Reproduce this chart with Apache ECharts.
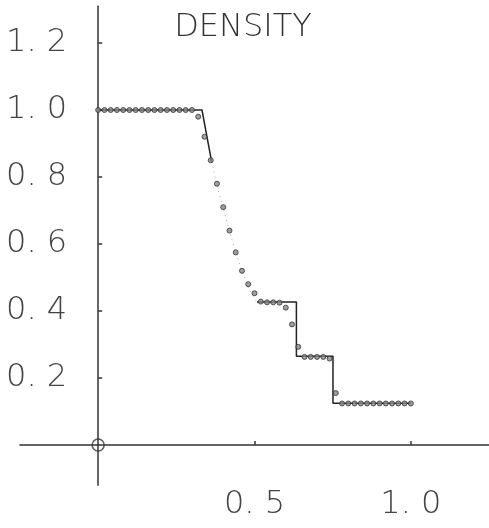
<!DOCTYPE html>
<html>
<head>
<meta charset="utf-8">
<script src="https://cdn.jsdelivr.net/npm/echarts@6/dist/echarts.min.js"></script>
<style>html,body{margin:0;padding:0;background:#fff;}#c{width:489px;height:528px;}</style>
</head>
<body>
<div id="c"></div>
<script>
// Numerical solution (circles)
const xValues = [0.00,0.02,0.04,0.06,0.08,0.10,0.12,0.14,0.16,0.18,0.20,0.22,0.24,0.26,0.28,0.30,
  0.32,0.34,0.36,0.38,0.40,0.42,0.44,0.46,0.48,0.50,0.52,0.54,0.56,0.58,0.60,0.62,0.64,
  0.66,0.68,0.70,0.72,0.74,0.76,0.78,0.80,0.82,0.84,0.86,0.88,0.90,0.92,0.94,0.96,0.98,1.00];
const densityValues = [1.0,1.0,1.0,1.0,1.0,1.0,1.0,1.0,1.0,1.0,1.0,1.0,1.0,1.0,1.0,1.0,
  0.98,0.92,0.85,0.78,0.71,0.64,0.575,0.52,0.48,0.453,0.428,0.426,0.426,0.425,0.41,0.36,0.293,
  0.263,0.263,0.263,0.263,0.258,0.155,0.124,0.124,0.124,0.124,0.124,0.124,0.124,0.124,0.124,0.124,0.124,0.124];
// Exact solution, solid parts
const exactLeftX = [0.0, 0.332, 0.363];
const exactLeftY = [1.0, 1.0, 0.845];
const exactRightX = [0.508, 0.634, 0.634, 0.751, 0.751, 1.0];
const exactRightY = [0.427, 0.427, 0.265, 0.265, 0.125, 0.125];
// Exact solution, faint rarefaction part
const rarefX = [0.363, 0.38, 0.40, 0.42, 0.44, 0.46, 0.48, 0.50, 0.508];
const rarefY = [0.845, 0.775, 0.705, 0.638, 0.575, 0.52, 0.47, 0.435, 0.427];
// Origin marker
const originX = [0];
const originY = [0];
// Tick labels
const xTickValues = [0.5, 1.0];
const yTickValues = [0.2, 0.4, 0.6, 0.8, 1.0, 1.2];
const titleText = 'DENSITY';

const zip = (a, b) => a.map((v, i) => [v, b[i]]);
const FONT = 'DejaVu Sans';
const fmt = v => { const s = Number(v).toFixed(1); return s[0] + '. ' + s[2]; };

const chart = echarts.init(document.getElementById('c'), null, { renderer: 'canvas' });
chart.setOption({
  animation: false,
  backgroundColor: '#fff',
  title: {
    text: titleText, left: 238, top: 7, textAlign: 'center',
    textStyle: { fontFamily: FONT, fontWeight: 200, fontSize: 32, color: '#333' }
  },
  grid: { left: 20, right: 0, top: 6.15, bottom: 42.8, containLabel: false, outerBoundsMode: 'none' },
  xAxis: {
    type: 'value', min: -0.25, max: 1.25,
    splitLine: { show: false },
    axisLine: { onZero: true, lineStyle: { color: '#333', width: 1.5 } },
    axisTick: { show: true, inside: true, length: 4, customValues: xTickValues, lineStyle: { color: '#333', width: 1.5 } },
    axisLabel: { show: false }
  },
  yAxis: {
    type: 'value', min: -0.12, max: 1.31,
    splitLine: { show: false },
    axisLine: { onZero: true, lineStyle: { color: '#333', width: 1.5 } },
    axisTick: { show: true, inside: true, length: 4, customValues: yTickValues, lineStyle: { color: '#333', width: 1.5 } },
    axisLabel: { show: false }
  },
  series: [
    { type: 'line', data: zip(rarefX, rarefY), showSymbol: false, symbol: 'none',
      lineStyle: { color: '#aaa', width: 1, type: [1, 4] }, z: 1 },
    { type: 'line', data: zip(exactLeftX, exactLeftY), showSymbol: false, symbol: 'none',
      lineStyle: { color: '#222', width: 1.5 }, z: 2 },
    { type: 'line', data: zip(exactRightX, exactRightY), showSymbol: false, symbol: 'none',
      lineStyle: { color: '#222', width: 1.5 }, z: 2 },
    { type: 'scatter', data: zip(xValues, densityValues), symbol: 'circle', symbolSize: 5,
      itemStyle: { color: '#888', borderColor: '#333', borderWidth: 1 }, z: 3 },
    { type: 'scatter', data: zip(originX, originY), symbol: 'circle', symbolSize: 12,
      itemStyle: { color: 'rgba(0,0,0,0)', borderColor: '#333', borderWidth: 1.5 }, z: 4 }
  ]
});

// Tick labels placed through the chart's own scales
const labelStyle = { fontFamily: FONT, fontWeight: 200, fontSize: 32, fill: '#444' };
const graphics = [];
yTickValues.forEach(v => {
  const p = chart.convertToPixel({ gridIndex: 0 }, [0, v]);
  graphics.push({ type: 'text', silent: true, style: Object.assign({
    text: fmt(v), x: p[0] - 31, y: p[1], align: 'right', verticalAlign: 'middle',
    textAlign: 'right', textVerticalAlign: 'middle' }, labelStyle) });
});
xTickValues.forEach(v => {
  const p = chart.convertToPixel({ gridIndex: 0 }, [v, 0]);
  graphics.push({ type: 'text', silent: true, style: Object.assign({
    text: fmt(v), x: p[0], y: p[1] + 60, align: 'center', verticalAlign: 'middle',
    textAlign: 'center', textVerticalAlign: 'middle' }, labelStyle) });
});
chart.setOption({ graphic: graphics });
</script>
</body>
</html>
